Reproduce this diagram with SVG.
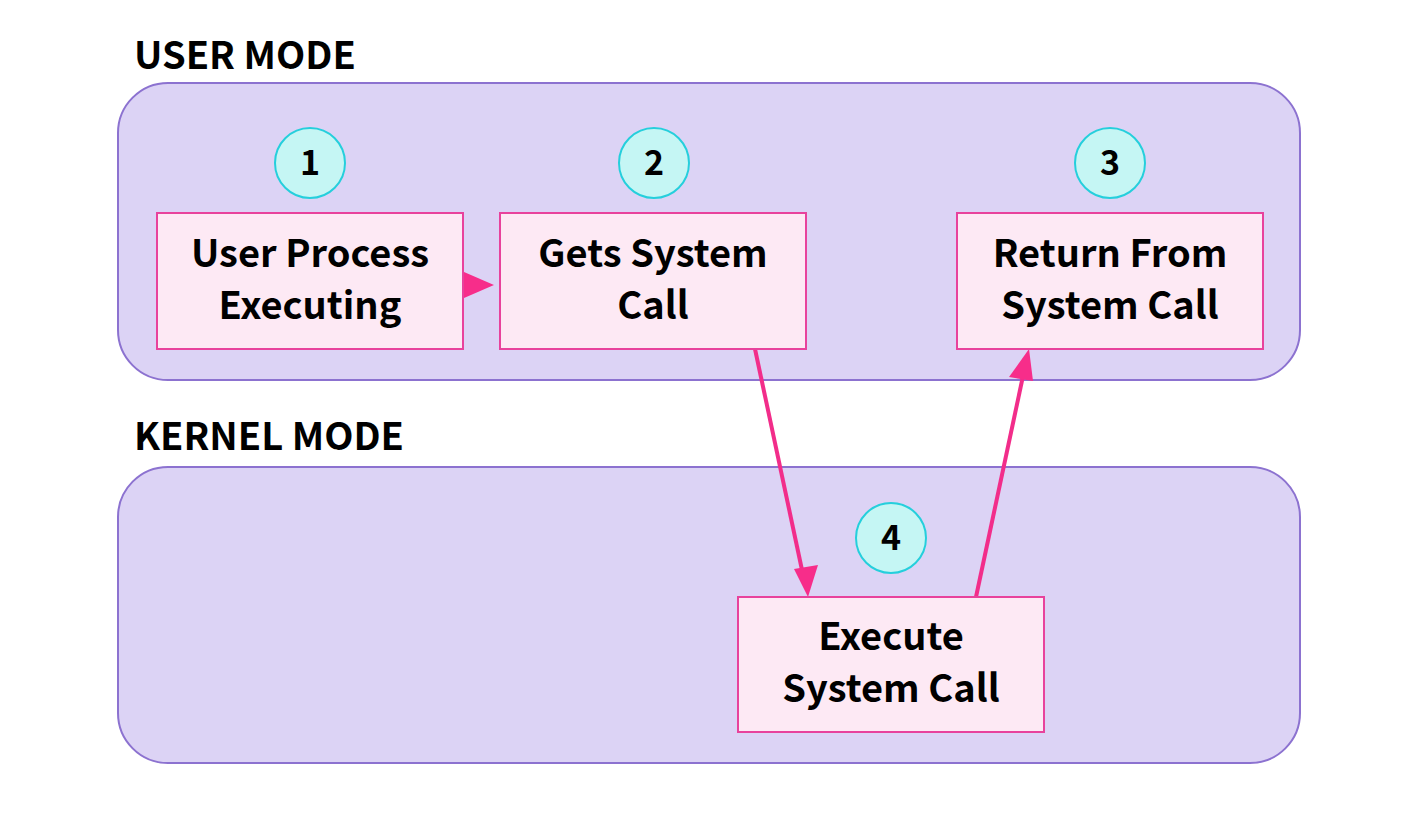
<svg xmlns="http://www.w3.org/2000/svg" width="1418" height="814" viewBox="0 0 1418 814">
<style>
.panel{fill:#dcd3f5;stroke:#8c72d0;stroke-width:2}
.box{fill:#fde9f4;stroke:#e8429c;stroke-width:2}
.badge{fill:#c5f6f4;stroke:#25cfdc;stroke-width:2}
.title{font-family:"Noto Sans CJK JP","Source Sans Pro","Noto Sans",sans-serif;font-weight:700;font-size:38px;fill:#000}
.t{font-family:"Noto Sans CJK JP","Source Sans Pro","Noto Sans",sans-serif;font-weight:700;font-size:38px;fill:#000;text-anchor:middle}
.n{font-family:"Noto Sans CJK JP","Source Sans Pro","Noto Sans",sans-serif;font-weight:700;font-size:34px;fill:#000;text-anchor:middle}
.edge{stroke:#f22d8a;stroke-width:4;fill:none}
</style>
<rect width="1418" height="814" fill="#ffffff"/>
<g id="user-mode">
<rect class="panel" x="118" y="83" width="1182" height="297" rx="50"/>
<text class="title" x="134" y="69">USER MODE</text>
</g>
<g id="kernel-mode">
<rect class="panel" x="118" y="467" width="1182" height="296" rx="50"/>
<text class="title" x="134" y="450">KERNEL MODE</text>
</g>
<g id="connectors">
<path d="M464,272 L494,285 L464,298 z" fill="#f72d8a"/>
<line class="edge" x1="755" y1="349" x2="802" y2="570"/>
<path d="M794,569 L818,565 L808,597 z" fill="#f72d8a"/>
<line class="edge" x1="976" y1="597" x2="1023" y2="376"/>
<path d="M1009,377 L1033,381 L1029,349 z" fill="#f72d8a"/>
</g>
<g id="node-1">
<circle class="badge" cx="310" cy="163" r="35"/>
<text class="n" x="310" y="175">1</text>
<rect class="box" x="157" y="213" width="306" height="136"/>
<text class="t" x="310" y="267">User Process</text>
<text class="t" x="310" y="319">Executing</text>
</g>
<g id="node-2">
<circle class="badge" cx="654" cy="163" r="35"/>
<text class="n" x="654" y="175">2</text>
<rect class="box" x="500" y="213" width="306" height="136"/>
<text class="t" x="653" y="267">Gets System</text>
<text class="t" x="653" y="319">Call</text>
</g>
<g id="node-3">
<circle class="badge" cx="1110" cy="163" r="35"/>
<text class="n" x="1110" y="175">3</text>
<rect class="box" x="957" y="213" width="306" height="136"/>
<text class="t" x="1110" y="267">Return From</text>
<text class="t" x="1110" y="319">System Call</text>
</g>
<g id="node-4">
<circle class="badge" cx="891" cy="538" r="35"/>
<text class="n" x="891" y="550">4</text>
<rect class="box" x="738" y="597" width="306" height="135"/>
<text class="t" x="891" y="650">Execute</text>
<text class="t" x="891" y="702">System Call</text>
</g>
</svg>
